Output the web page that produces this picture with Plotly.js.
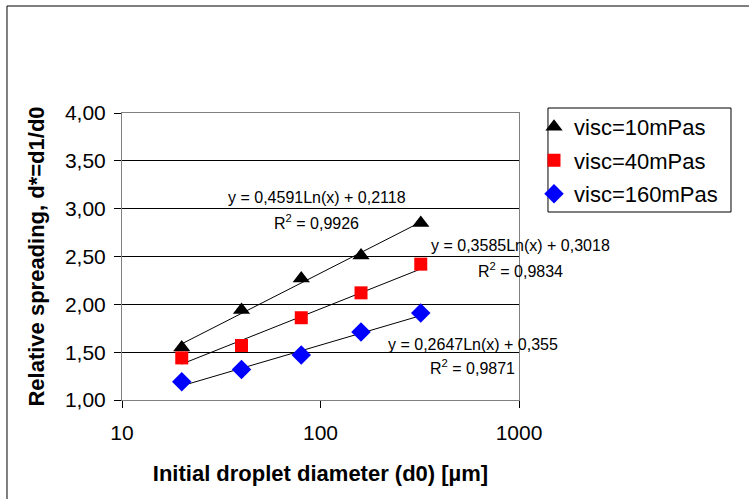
<!DOCTYPE html>
<html>
<head>
<meta charset="utf-8">
<script src="https://cdn.plot.ly/plotly-3.0.1.min.js"></script>
<style>html,body{margin:0;padding:0;background:#fff;}#chart{width:749px;height:499px;}</style>
</head>
<body>
<div id="chart"></div>
<script>
// Data
const diameters = [20, 40, 80, 160, 320];
const seriesNames = ["visc=10mPas", "visc=40mPas", "visc=160mPas"];
const visc10 = [1.55, 1.94, 2.27, 2.51, 2.85];
const visc40 = [1.44, 1.57, 1.86, 2.12, 2.42];
const visc160 = [1.19, 1.32, 1.47, 1.71, 1.91];
// Logarithmic trendline coefficients shown on the chart: y = a*Ln(x) + b
const trendA = [0.4591, 0.3585, 0.2647];
const trendB = [0.2118, 0.3018, 0.355];
const trendR2 = ["0,9926", "0,9834", "0,9871"];
const trendEq = ["y = 0,4591Ln(x) + 0,2118", "y = 0,3585Ln(x) + 0,3018", "y = 0,2647Ln(x) + 0,355"];
const yTickVals = [1, 1.5, 2, 2.5, 3, 3.5, 4];
const yTickText = ["1,00", "1,50", "2,00", "2,50", "3,00", "3,50", "4,00"];
const xTickVals = [10, 100, 1000];
const xTickText = ["10", "100", "1000"];

const FONT = "Liberation Sans, Arial, sans-serif";
const seriesValues = [visc10, visc40, visc160];
const markerStyles = [
  {symbol: "triangle-up", color: "#000000", size: 15},
  {symbol: "square", color: "#FF0000", size: 13},
  {symbol: "diamond", color: "#0000FF", size: 15}
];

const traces = [];
// trendlines first (drawn beneath markers)
for (let i = 0; i < 3; i++) {
  traces.push({
    x: diameters,
    y: diameters.map(d => trendA[i] * Math.log(d) + trendB[i]),
    mode: "lines",
    line: {color: "#000000", width: 1},
    showlegend: false,
    hoverinfo: "skip"
  });
}
for (let i = 0; i < 3; i++) {
  traces.push({
    x: diameters,
    y: seriesValues[i],
    name: seriesNames[i],
    mode: "markers",
    marker: {symbol: markerStyles[i].symbol, color: markerStyles[i].color, size: markerStyles[i].size, line: {width: 0}},
    legendgroup: "g" + i
  });
}

// annotation positions (paper coordinates)
const eqPos = [[0.491, 0.707, 0.620], [1.005, 0.540, 0.453], [0.884, 0.192, 0.115]];
const annotations = [];
for (let i = 0; i < 3; i++) {
  annotations.push({xref: "paper", yref: "paper", x: eqPos[i][0], y: eqPos[i][1], text: trendEq[i], showarrow: false, xanchor: "center", yanchor: "middle", font: {family: FONT, size: 16, color: "#000"}});
  annotations.push({xref: "paper", yref: "paper", x: eqPos[i][0], y: eqPos[i][2], text: "R<sup>2</sup> = " + trendR2[i], showarrow: false, xanchor: "center", yanchor: "middle", font: {family: FONT, size: 16, color: "#000"}});
}

const layout = {
  width: 749, height: 499,
  margin: {l: 122, r: 230, t: 113, b: 99, pad: 0},
  paper_bgcolor: "#ffffff",
  plot_bgcolor: "#ffffff",
  font: {family: FONT, color: "#000"},
  showlegend: true,
  legend: {
    x: 1.0378, y: 1.025, xanchor: "left", yanchor: "top",
    bgcolor: "rgba(0,0,0,0)", borderwidth: 0,
    font: {family: FONT, size: 22, color: "#000"},
    tracegroupgap: 2, itemwidth: 30
  },
  xaxis: {
    type: "log", range: [1, 3],
    tickvals: xTickVals, ticktext: xTickText,
    ticks: "outside", ticklen: 7, tickcolor: "#000", tickwidth: 1,
    showgrid: false, zeroline: false,
    showline: true, linecolor: "#808080", linewidth: 1, mirror: true,
    tickfont: {family: FONT, size: 21, color: "#000"},
    ticklabelstandoff: 7,
    title: {text: "<b>Initial droplet diameter (d0) [µm]</b>", font: {family: FONT, size: 22, color: "#000"}, standoff: 22},
    automargin: false
  },
  yaxis: {
    range: [1, 4],
    tickvals: yTickVals, ticktext: yTickText,
    ticks: "outside", ticklen: 7, tickcolor: "#000", tickwidth: 1,
    showgrid: true, gridcolor: "#000000", gridwidth: 1,
    zeroline: false,
    showline: true, linecolor: "#808080", linewidth: 1, mirror: true,
    tickfont: {family: FONT, size: 21, color: "#000"},
    ticklabelstandoff: 4,
    title: {text: "<b>Relative spreading, d*=d1/d0</b>", font: {family: FONT, size: 22, color: "#000"}, standoff: 14},
    automargin: false
  },
  annotations: annotations,
  shapes: [
    // outer chart frame (only top and left visible)
    {type: "rect", xref: "paper", yref: "paper", x0: -0.2897, x1: 1.6, y0: -0.4, y1: 1.3728, line: {color: "#000", width: 1}, fillcolor: "rgba(0,0,0,0)", layer: "below"},
    // legend box
    {type: "rect", xref: "paper", yref: "paper", x0: 1.073, x1: 1.534, y0: 0.655, y1: 1.0174, line: {color: "#000", width: 1}, fillcolor: "rgba(0,0,0,0)"}
  ]
};

Plotly.newPlot("chart", traces, layout, {displayModeBar: false, staticPlot: true});
</script>
</body>
</html>
